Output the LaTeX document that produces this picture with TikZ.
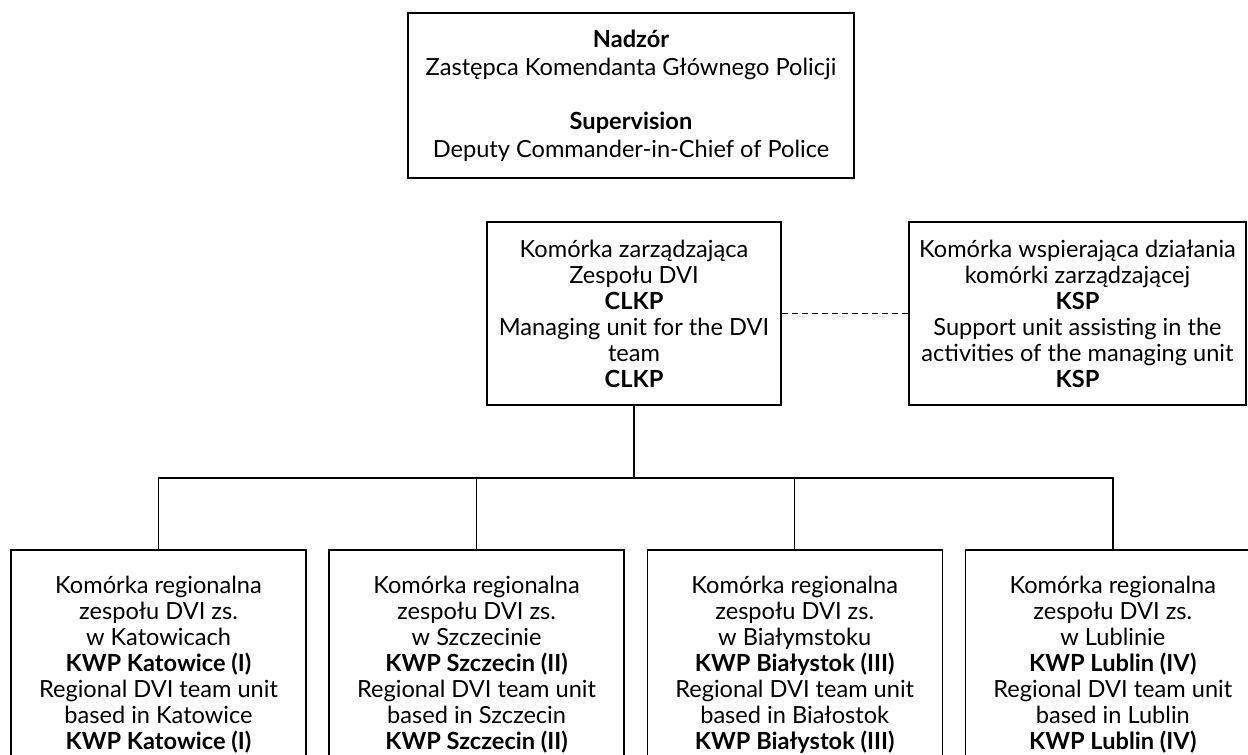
\documentclass[tikz,border=0pt]{standalone}
\usepackage{fontspec}
\setmainfont{Lato}
\usetikzlibrary{positioning}

\begin{document}
\begin{tikzpicture}[
  x=0.5pt, y=-0.5pt,
  node distance=10.85pt,
  box/.style={draw, line width=0.7pt, align=center, inner sep=0pt,
              font=\fontsize{11.8}{13}\selectfont},
  unit/.style={box, minimum width=147pt, minimum height=91.5pt},
  reg/.style={box, minimum width=147.5pt, minimum height=114.5pt},
  link/.style={line width=0.7pt}
]
\useasboundingbox (0,0) rectangle (1248,755);
\clip (0,0) rectangle (1248,755);

\node[box, minimum width=223pt, minimum height=82.5pt,
      font=\fontsize{11.8}{14}\selectfont] (sup) at (631,95.5)
  {\textbf{Nadzór}\\Zastępca Komendanta Głównego Policji\\[13pt]
   \textbf{Supervision}\\Deputy Commander-in-Chief of Police};
\node[unit] (mgr) at (634,313.5)
  {Komórka zarządzająca\\Zespołu DVI\\\textbf{CLKP}\\Managing unit for the DVI\\team\\\textbf{CLKP}};
\node[unit, minimum width=168.5pt] (ksp) at (1077.5,313.5)
  {Komórka wspierająca działania\\komórki zarządzającej\\\textbf{KSP}\\Support unit assisting in the\\activities of the managing unit\\\textbf{KSP}};

\node[reg] (kat) at (158.5,664.5)
  {Komórka regionalna\\zespołu DVI zs.\\w Katowicach\\\textbf{KWP Katowice (I)}\\Regional DVI team unit\\based in Katowice\\\textbf{KWP Katowice (I)}};
\node[reg, right=of kat] (szc)
  {Komórka regionalna\\zespołu DVI zs.\\w Szczecinie\\\textbf{KWP Szczecin (II)}\\Regional DVI team unit\\based in Szczecin\\\textbf{KWP Szczecin (II)}};
\node[reg, right=of szc] (bia)
  {Komórka regionalna\\zespołu DVI zs.\\w Białymstoku\\\textbf{KWP Białystok (III)}\\Regional DVI team unit\\based in Białostok\\\textbf{KWP Białystok (III)}};
\node[reg, right=of bia] (lub)
  {Komórka regionalna\\zespołu DVI zs.\\w Lublinie\\\textbf{KWP Lublin (IV)}\\Regional DVI team unit\\based in Lublin\\\textbf{KWP Lublin (IV)}};

% connectors
\coordinate (bus) at (634,478);
\draw[link] (mgr.south) -- (mgr.south |- bus);
\draw[link] (kat.north) -- (kat.north |- bus) -- (lub.north |- bus) -- (lub.north);
\draw[link] (szc.north) -- (szc.north |- bus);
\draw[link] (bia.north) -- (bia.north |- bus);
\draw[link, dash pattern=on 3pt off 2pt] (mgr) -- (ksp);
\end{tikzpicture}
\end{document}
